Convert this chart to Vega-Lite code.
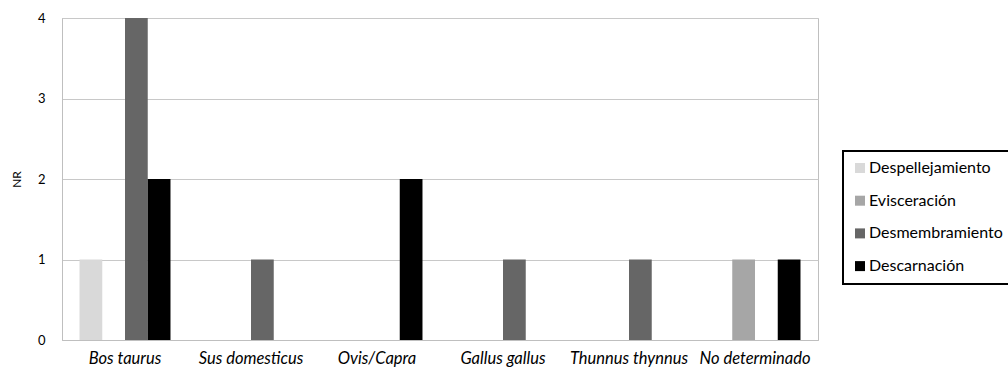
{
  "$schema": "https://vega.github.io/schema/vega-lite/v6.json",
  "autosize": {"type": "none"},
  "width": 756,
  "height": 322,
  "padding": {"left": 62, "top": 18, "right": 190, "bottom": 30},
  "background": "white",
  "config": {
    "font": "Lato",
    "view": {"stroke": "#bfbfbf", "strokeWidth": 1},
    "legend": {"strokeWidth": 2}
  },
  "data": {
    "values": [
      {"especie": "Bos taurus", "accion": "Despellejamiento", "nr": 1},
      {"especie": "Bos taurus", "accion": "Desmembramiento", "nr": 4},
      {"especie": "Bos taurus", "accion": "Descarnación", "nr": 2},
      {"especie": "Sus domesticus", "accion": "Desmembramiento", "nr": 1},
      {"especie": "Ovis/Capra", "accion": "Descarnación", "nr": 2},
      {"especie": "Gallus gallus", "accion": "Desmembramiento", "nr": 1},
      {"especie": "Thunnus thynnus", "accion": "Desmembramiento", "nr": 1},
      {"especie": "No determinado", "accion": "Evisceración", "nr": 1},
      {"especie": "No determinado", "accion": "Descarnación", "nr": 1}
    ]
  },
  "mark": {"type": "bar"},
  "encoding": {
    "x": {
      "field": "especie",
      "type": "nominal",
      "sort": ["Bos taurus", "Sus domesticus", "Ovis/Capra", "Gallus gallus", "Thunnus thynnus", "No determinado"],
      "scale": {"paddingInner": 0.278, "paddingOuter": 0.139},
      "axis": {
        "title": null,
        "labelAngle": 0,
        "labelFont": "Lato",
        "labelFontStyle": "italic",
        "labelFontSize": 16.5,
        "labelColor": "#000000",
        "labelPadding": 10,
        "ticks": false,
        "domainColor": "#bfbfbf",
        "labelLimit": 200
      }
    },
    "xOffset": {
      "field": "accion",
      "type": "nominal",
      "scale": {"domain": ["Despellejamiento", "Evisceración", "Desmembramiento", "Descarnación"], "paddingInner": 0, "paddingOuter": 0}
    },
    "y": {
      "field": "nr",
      "type": "quantitative",
      "scale": {"domain": [0, 4]},
      "axis": {
        "title": "NR",
        "titleFont": "Lato",
        "titleFontSize": 12,
        "titleFontWeight": "normal",
        "titleColor": "#000000",
        "titlePadding": 14,
        "values": [0, 1, 2, 3, 4],
        "format": "d",
        "labelFont": "Lato",
        "labelFontSize": 13,
        "labelColor": "#000000",
        "labelPadding": 17,
        "ticks": false,
        "domainColor": "#bfbfbf",
        "gridColor": "#c8c8c8"
      }
    },
    "color": {
      "field": "accion",
      "type": "nominal",
      "scale": {
        "domain": ["Despellejamiento", "Evisceración", "Desmembramiento", "Descarnación"],
        "range": ["#d9d9d9", "#a6a6a6", "#666666", "#000000"]
      },
      "legend": {
        "title": null,
        "orient": "none",
        "legendX": 781,
        "legendY": 133,
        "symbolType": "square",
        "symbolSize": 100,
        "symbolStrokeWidth": 0,
        "labelFont": "Lato",
        "labelFontSize": 16,
        "labelColor": "#000000",
        "labelOffset": 1,
        "labelLimit": 300,
        "rowPadding": 16.7,
        "padding": 9,
        "strokeColor": "#000000",
        "fillColor": "white"
      }
    }
  }
}
